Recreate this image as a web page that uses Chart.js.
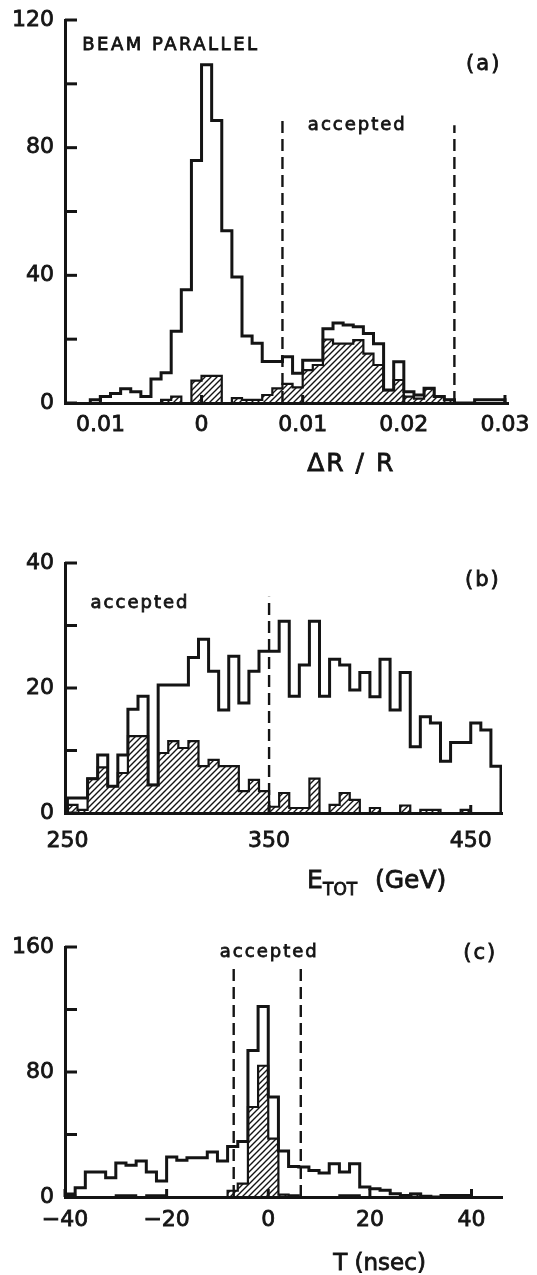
<!DOCTYPE html>
<html>
<head>
<meta charset="utf-8">
<script src="https://cdn.jsdelivr.net/npm/chart.js@4.4.1/dist/chart.umd.min.js"></script>
<style>
  html, body { margin:0; padding:0; background:#fff; }
  #wrap { position:relative; width:537px; height:1275px; overflow:hidden; }
  canvas { position:absolute; left:0; }
</style>
</head>
<body>
<div id="wrap">
  <canvas id="chartA"></canvas>
  <canvas id="chartB"></canvas>
  <canvas id="chartC"></canvas>
</div>
<script>
const INK = '#141414';
const FONT = '"DejaVu Sans"';

// ---- (a) Delta R / R, bins of 0.001 starting at -0.011 ----
const aBinStart = -0.011;
const aBinWidth = 0.001;
const aAll = [1, 2, 3, 4.5, 3.5, 2, 7.5, 9.5, 22.5, 35.5,
  76, 106, 88.5, 54, 39.5, 21, 18.7, 13, 13, 14.5,
  9.3, 13.4, 13.4, 23.3, 25.1, 24.4, 23.9, 21.8, 18.6, 4.1,
  12.9, 3.5, 2.5, 4.6, 2, 1, 0, 0, 1, 1, 1];
const aHatched = [0, 0, 0, 0, 0, 0, 0, 1, 2, 0,
  7, 8.5, 8.5, 0, 1.5, 1, 1, 2.5, 4.6, 6,
  4.9, 10.3, 11.9, 19.9, 18.6, 18.6, 19.7, 15.5, 11.9, 4,
  7.2, 2, 1.4, 4.5, 2, 1, 0, 0, 0, 0, 0];
const aCuts = [0.008, 0.025];
const aCutTops = [90, 87];
const aXTicks = [-0.01, 0, 0.01, 0.02, 0.03];
const aXLabels = ['0.01', '0', '0.01', '0.02', '0.03'];

// ---- (b) E_TOT, bins of 5 GeV starting at 250 ----
const bBinStart = 250;
const bBinWidth = 5;
const bAll = [2.4, 2.4, 5.5, 9.3, 4.3, 9.3, 16.6, 18.7, 4.5, 20.5,
  20.5, 20.5, 24.9, 27.8, 22.7, 16.5, 25.1, 17.6, 22.7, 25.9,
  25.9, 30.7, 18.7, 23.7, 30.7, 18.7, 24.6, 23.7, 19.7, 22.5,
  18.6, 24.6, 16.5, 22.5, 10.6, 15.4, 14.4, 8.3, 11.3, 11.3,
  14.4, 13.3, 7.5];
const bHatched = [1.3, 0.5, 5.5, 7.3, 4.3, 6.4, 12.3, 12.3, 4.5, 9.6,
  11.5, 10.4, 11.5, 7.5, 8.5, 7.5, 7.5, 3.5, 5.3, 3.5,
  1, 3.2, 0.8, 0.8, 5.5, 0, 1.3, 3.2, 2.1, 0,
  0.8, 0, 0, 1.2, 0, 0.5, 0.5, 0, 0, 0.5,
  0, 0, 0];
const bCuts = [350];
const bCutTops = [34.6];
const bXTicks = [250, 350, 450];
const bXLabels = ['250', '350', '450'];

// ---- (c) T, bins of 2 nsec starting at -40 ----
const cBinStart = -40;
const cBinWidth = 2;
const cAll = [2, 6, 16, 16, 12.4, 21.8, 20.3, 23, 16, 10.2,
  25.6, 23.5, 25.2, 25.2, 28.8, 23, 32.4, 35.6, 93.8, 122,
  64, 29.5, 19.5, 19.2, 17, 15.4, 21.3, 16, 21.3, 6.4,
  5.3, 4.3, 2.1, 1, 2, 0.5, 0, 1, 1, 1];
const cHatched = [1, 0, 0, 0, 0, 1, 1, 0, 1, 1,
  0, 0, 0, 0, 0, 0, 4, 8.5, 57.6, 84,
  37.3, 1.5, 1, 0, 0, 0, 0, 1, 1, 0,
  0, 0, 0, 1, 2, 0, 0, 0, 0, 0];
const cCuts = [-6.8, 6.4];
const cCutTops = [148, 148];
const cXTicks = [-40, -20, 0, 20, 40];
const cXLabels = ['\u221240', '\u221220', '0', '20', '40'];

// step outline: one point per bin left edge, closed to zero at both ends
function histPoints(start, width, vals){
  const pts = [{x:start, y:0}];
  vals.forEach((v,i)=> pts.push({x:start + i*width, y:v}));
  pts.push({x:start + vals.length*width, y:0});
  return pts;
}

function makeHatch(){
  const c = document.createElement('canvas');
  c.width = 6; c.height = 6;
  const g = c.getContext('2d');
  g.strokeStyle = INK; g.lineWidth = 1.4;
  g.beginPath();
  g.moveTo(-1,7); g.lineTo(7,-1);
  g.moveTo(-4,4); g.lineTo(4,-4);
  g.moveTo(2,10); g.lineTo(10,2);
  g.stroke();
  return g.createPattern(c, 'repeat');
}
const hatch = makeHatch();

// text with a thin stroke, the print is heavier than plain DejaVu
function drawText(ctx, text, x, y, size, align, spacing, baseline){
  ctx.font = size + 'px ' + FONT;
  ctx.letterSpacing = (spacing || 0) + 'px';
  ctx.textAlign = align || 'center';
  ctx.textBaseline = baseline || 'middle';
  ctx.lineWidth = 0.8;
  ctx.fillText(text, x, y);
  ctx.strokeText(text, x, y);
}

// inward tick marks, in-plot notes and the axis title
function decorPlugin(p){
  return {
    id: 'decor',
    afterDraw(chart){
      const {ctx, chartArea} = chart;
      const xs = chart.scales.x, ys = chart.scales.y;
      ctx.save();
      ctx.strokeStyle = INK; ctx.fillStyle = INK;
      ctx.lineWidth = 3; ctx.lineCap = 'butt';
      ys.ticks.forEach(t=>{
        const py = ys.getPixelForValue(t.value);
        ctx.beginPath(); ctx.moveTo(chartArea.left, py); ctx.lineTo(chartArea.left + 12, py); ctx.stroke();
      });
      xs.ticks.forEach(t=>{
        const px = xs.getPixelForValue(t.value);
        ctx.beginPath(); ctx.moveTo(px, chartArea.bottom); ctx.lineTo(px, chartArea.bottom - 8); ctx.stroke();
      });
      p.notes.forEach(n=>{
        drawText(ctx, n.text, xs.getPixelForValue(n.x), ys.getPixelForValue(n.y), n.size, n.align, n.spacing);
      });
      const t = p.title;
      const x0 = xs.getPixelForValue(t.x), y0 = chartArea.bottom + t.dy;
      t.parts.forEach(part=>{
        drawText(ctx, part.text, x0 + (part.off || 0), y0 + (part.drop || 0), part.size, t.align, part.spacing, 'alphabetic');
      });
      ctx.restore();
    }
  };
}

function makeChart(id, p){
  const canvas = document.getElementById(id);
  canvas.width = 537; canvas.height = p.height;
  canvas.style.top = p.top + 'px';
  const area = p.area;
  const tickFont = {family:'DejaVu Sans', size:22};

  const datasets = [
    {data:histPoints(p.start, p.width, p.hatched), stepped:true, fill:'origin',
     backgroundColor:hatch, borderColor:INK, borderWidth:2.2, order:2},
    {data:histPoints(p.start, p.width, p.all), stepped:true, fill:false,
     borderColor:INK, borderWidth:3, order:1}
  ];
  p.cuts.forEach((c,i)=>{
    datasets.push({data:[{x:c, y:0}, {x:c, y:p.cutTops[i]}], fill:false,
      borderColor:INK, borderWidth:2.4, borderDash:[12,6], order:0});
  });

  return new Chart(canvas, {
    type:'line',
    data:{datasets},
    options:{
      responsive:false, animation:false, events:[],
      layout:{padding:{left:0, top:area.top, right:537 - area.right, bottom:0}},
      elements:{point:{radius:0, hoverRadius:0}, line:{borderJoinStyle:'miter', borderCapStyle:'butt'}},
      plugins:{legend:{display:false}, tooltip:{enabled:false}},
      scales:{
        x:{
          type:'linear', min:p.xRange[0], max:p.xRange[1],
          grid:{display:false, drawTicks:false},
          border:{display:true, color:INK, width:3},
          afterBuildTicks: s => { s.ticks = p.xTicks.map(v=>({value:v})); },
          afterFit: s => { s.height = p.height - area.bottom; s.paddingLeft = 0; s.paddingRight = 0; },
          ticks:{autoSkip:false, maxRotation:0, padding:p.xPad, color:INK, font:tickFont,
                 textStrokeColor:INK, textStrokeWidth:0.8,
                 callback:(v,i)=> p.xLabels[i]}
        },
        y:{
          type:'linear', min:0, max:p.yMax,
          grid:{display:false, drawTicks:false},
          border:{display:true, color:INK, width:3},
          afterFit: s => { s.width = area.left; s.paddingTop = 0; s.paddingBottom = 0; },
          ticks:{stepSize:p.yStep, autoSkip:false, padding:11, color:INK, font:tickFont,
                 textStrokeColor:INK, textStrokeWidth:0.8,
                 callback: v => (v % p.yLabelStep === 0 ? String(v) : '')}
        }
      }
    },
    plugins:[decorPlugin(p)]
  });
}

makeChart('chartA', {
  top:0, height:500, area:{left:65, top:20, right:508, bottom:403},
  start:aBinStart, width:aBinWidth, all:aAll, hatched:aHatched,
  cuts:aCuts, cutTops:aCutTops,
  xRange:[-0.0135, 0.0303], xTicks:aXTicks, xLabels:aXLabels, xPad:9,
  yMax:120, yStep:20, yLabelStep:40,
  notes:[
    {text:'BEAM PARALLEL', x:-0.0118, y:112, size:18, align:'left', spacing:2.5},
    {text:'accepted', x:0.0154, y:87, size:18, spacing:2},
    {text:'(a)', x:0.0279, y:106, size:21, spacing:2}
  ],
  title:{x:0.0148, dy:68, align:'center', parts:[{text:'\u0394R / R', size:25, spacing:2}]}
});

makeChart('chartB', {
  top:500, height:405, area:{left:65, top:63, right:502, bottom:313},
  start:bBinStart, width:bBinWidth, all:bAll, hatched:bHatched,
  cuts:bCuts, cutTops:bCutTops,
  xRange:[248.8, 465.5], xTicks:bXTicks, xLabels:bXLabels, xPad:15,
  yMax:40, yStep:10, yLabelStep:20,
  notes:[
    {text:'accepted', x:286, y:33.6, size:18, spacing:2},
    {text:'(b)', x:456, y:37.2, size:21, spacing:2}
  ],
  title:{x:368.8, dy:75, align:'left', parts:[
    {text:'E', size:25},
    {text:'TOT', size:17, off:16, drop:7},
    {text:'(GeV)', size:25, off:68}
  ]}
});

makeChart('chartC', {
  top:905, height:370, area:{left:65, top:42, right:502, bottom:292},
  start:cBinStart, width:cBinWidth, all:cAll, hatched:cHatched,
  cuts:cCuts, cutTops:cCutTops,
  xRange:[-40, 46], xTicks:cXTicks, xLabels:cXLabels, xPad:10.5,
  yMax:160, yStep:40, yLabelStep:80,
  notes:[
    {text:'accepted', x:0.2, y:156.6, size:18, spacing:2},
    {text:'(c)', x:41.7, y:156, size:21, spacing:2}
  ],
  title:{x:21.9, dy:73, align:'center', parts:[{text:'T (nsec)', size:23}]}
});
</script>
</body>
</html>
